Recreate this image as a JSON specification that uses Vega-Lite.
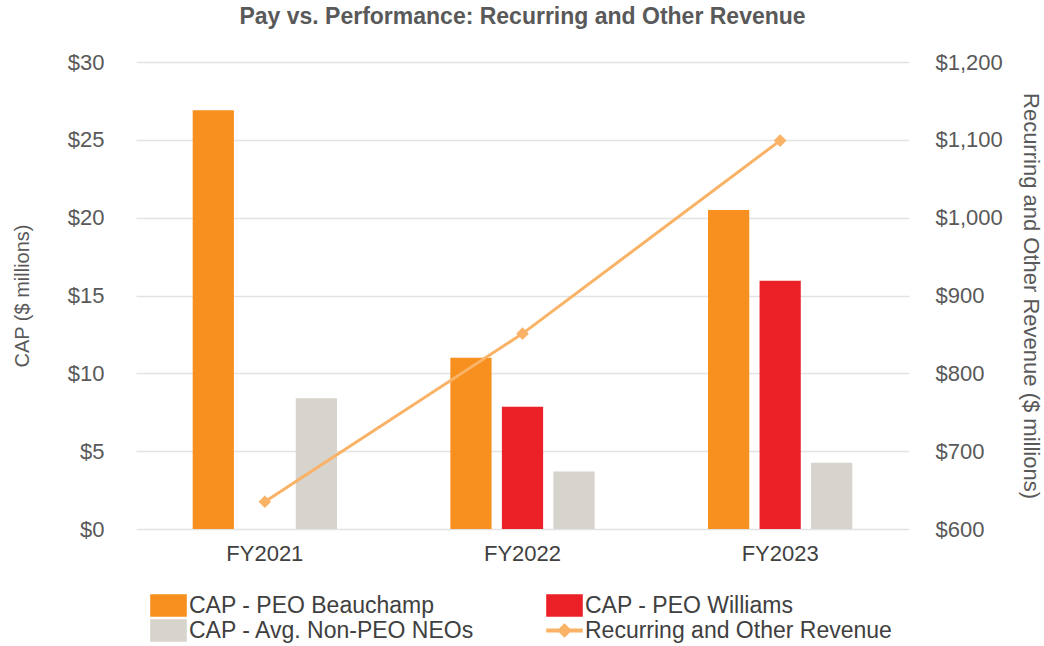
{
  "$schema": "https://vega.github.io/schema/vega-lite/v6.json",
  "width": 773,
  "height": 467,
  "autosize": {"type": "none"},
  "padding": {"left": 136, "top": 62, "right": 135, "bottom": 117},
  "background": "white",
  "title": {
    "text": "Pay vs. Performance: Recurring and Other Revenue",
    "font": "Liberation Sans",
    "fontSize": 23,
    "fontWeight": "bold",
    "color": "#595959",
    "anchor": "middle",
    "offset": 22
  },
  "config": {
    "view": {"stroke": null},
    "font": "Liberation Sans",
    "axis": {"labelColor": "#595959", "titleColor": "#595959", "labelFont": "Liberation Sans", "titleFont": "Liberation Sans"}
  },
  "datasets": {
    "bars": [
      {"year": "FY2021", "series": "CAP - PEO Beauchamp", "value": 26.9},
      {"year": "FY2021", "series": "CAP - Avg. Non-PEO NEOs", "value": 8.4},
      {"year": "FY2022", "series": "CAP - PEO Beauchamp", "value": 11.0},
      {"year": "FY2022", "series": "CAP - PEO Williams", "value": 7.85},
      {"year": "FY2022", "series": "CAP - Avg. Non-PEO NEOs", "value": 3.7},
      {"year": "FY2023", "series": "CAP - PEO Beauchamp", "value": 20.5},
      {"year": "FY2023", "series": "CAP - PEO Williams", "value": 15.95},
      {"year": "FY2023", "series": "CAP - Avg. Non-PEO NEOs", "value": 4.25}
    ],
    "revenue": [
      {"year": "FY2021", "series": "Recurring and Other Revenue", "revenue": 635},
      {"year": "FY2022", "series": "Recurring and Other Revenue", "revenue": 851},
      {"year": "FY2023", "series": "Recurring and Other Revenue", "revenue": 1099}
    ]
  },
  "layer": [
    {
      "data": {"name": "bars"},
      "mark": {"type": "bar"},
      "encoding": {
        "x": {
          "field": "year", "type": "nominal",
          "scale": {"paddingInner": 0.44, "paddingOuter": 0.22},
          "axis": {"title": null, "labelAngle": 0, "ticks": false, "domain": false, "labelFontSize": 22, "labelPadding": 14, "labelColor": "#404040"}
        },
        "xOffset": {
          "field": "series", "type": "nominal",
          "scale": {"domain": ["CAP - PEO Beauchamp", "CAP - PEO Williams", "CAP - Avg. Non-PEO NEOs"], "paddingInner": 0.2}
        },
        "y": {
          "field": "value", "type": "quantitative",
          "scale": {"domain": [0, 30], "nice": false},
          "axis": {
            "title": "CAP ($ millions)", "values": [0, 5, 10, 15, 20, 25, 30],
            "labelExpr": "'$' + datum.value",
            "ticks": false, "domain": false, "grid": true, "gridColor": "#E3E3E3", "gridWidth": 1.5,
            "labelFontSize": 22, "labelPadding": 32, "titleFontSize": 20, "titleFontWeight": "normal", "titlePadding": 35
          }
        },
        "color": {
          "field": "series", "type": "nominal",
          "scale": {
            "domain": ["CAP - PEO Beauchamp", "CAP - Avg. Non-PEO NEOs", "CAP - PEO Williams", "Recurring and Other Revenue"],
            "range": ["#F7901E", "#D7D3CD", "#EC2027", "#F9B266"]
          },
          "legend": {
            "title": null, "orient": "none", "legendX": 21, "legendY": 532,
            "columns": 2, "columnPadding": 68, "rowPadding": -2,
            "symbolType": "square", "symbolSize": 441, "symbolOpacity": 1,
            "labelFontSize": 23, "labelColor": "#404040", "labelFont": "Liberation Sans", "labelOffset": 9, "labelLimit": 500,
            "encode": {
              "symbols": {
                "update": {
                  "fill": {"scale": "color", "field": "value"},
                  "stroke": {"value": "transparent"},
                  "shape": {"signal": "datum.value === 'Recurring and Other Revenue' ? 'M-1.67,-0.13H1.67V0.13H-1.67Z M0,-0.6L0.6,0L0,0.6L-0.6,0Z' : 'M-1.67,-1H1.67V1H-1.67Z'"}
                }
              }
            }
          }
        }
      }
    },
    {
      "data": {"name": "revenue"},
      "mark": {"type": "line", "strokeWidth": 3},
      "encoding": {
        "x": {"field": "year", "type": "nominal"},
        "y": {
          "field": "revenue", "type": "quantitative",
          "scale": {"domain": [600, 1200], "nice": false},
          "axis": {
            "orient": "right", "title": "Recurring and Other Revenue ($ millions)",
            "values": [600, 700, 800, 900, 1000, 1100, 1200], "format": "$,.0f",
            "ticks": false, "domain": false, "grid": false,
            "labelFontSize": 22, "labelPadding": 26, "titleFontSize": 22, "titleFontWeight": "normal", "titlePadding": 16
          }
        },
        "color": {"field": "series", "type": "nominal"}
      }
    },
    {
      "data": {"name": "revenue"},
      "mark": {"type": "point", "shape": "diamond", "filled": true, "size": 160, "opacity": 1},
      "encoding": {
        "x": {"field": "year", "type": "nominal"},
        "y": {"field": "revenue", "type": "quantitative", "scale": {"domain": [600, 1200], "nice": false}, "axis": null},
        "color": {"field": "series", "type": "nominal"}
      }
    }
  ],
  "resolve": {"scale": {"y": "independent"}, "axis": {"y": "independent"}}
}
